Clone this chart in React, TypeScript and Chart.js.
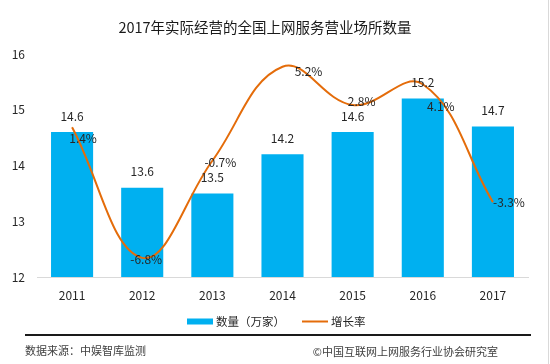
import React, { useEffect, useRef } from "react";
import { Chart, registerables } from "chart.js";

Chart.register(...registerables);

const title = "2017年实际经营的全国上网服务营业场所数量";
const years = ["2011", "2012", "2013", "2014", "2015", "2016", "2017"];
const counts = [14.6, 13.6, 13.5, 14.2, 14.6, 15.2, 14.7];
const growth = [1.4, -6.8, -0.7, 5.2, 2.8, 4.1, -3.3];
const countLabel = "数量（万家）";
const growthLabel = "增长率";
const sourceText = "数据来源：中娱智库监测";
const copyrightText = "©中国互联网上网服务行业协会研究室";
const yMin = 12;
const yMax = 16;

const FONT = '"Noto Sans CJK SC", "Noto Sans", sans-serif';
const BAR_COLOR = "#00B0F0";
const LINE_COLOR = "#E46C0A";
const TEXT_COLOR = "#262626";

// label offsets (relative to each line point) – styling only
const lineLabelOffsets = [
  [11, 11],
  [4, 2],
  [8, 2],
  [26, 5],
  [9, -4],
  [18, 22],
  [16, 0],
];

const decorPlugin = {
  id: "decor",
  afterDraw(chart: any) {
    const ctx = chart.ctx;
    ctx.save();
    // title
    ctx.fillStyle = "#1a1a1a";
    ctx.font = `14.5px ${FONT}`;
    ctx.textAlign = "center";
    ctx.textBaseline = "middle";
    ctx.fillText(title, 265, 27);

    // bar labels
    ctx.font = `12px ${FONT}`;
    ctx.fillStyle = TEXT_COLOR;
    const barMeta = chart.getDatasetMeta(0);
    barMeta.data.forEach((el: any, i: number) => {
      ctx.fillText(counts[i].toFixed(1), el.x, el.y - 16);
    });

    // line labels
    const lineMeta = chart.getDatasetMeta(1);
    lineMeta.data.forEach((el: any, i: number) => {
      const [dx, dy] = lineLabelOffsets[i];
      ctx.fillText(growth[i].toFixed(1) + "%", el.x + dx, el.y + dy);
    });

    // legend
    const ly = 321.5;
    ctx.fillStyle = BAR_COLOR;
    ctx.fillRect(187, ly - 3, 26, 6);
    ctx.fillStyle = TEXT_COLOR;
    ctx.font = `11.5px ${FONT}`;
    ctx.textAlign = "left";
    ctx.fillText(countLabel, 216, ly);
    ctx.strokeStyle = LINE_COLOR;
    ctx.lineWidth = 2;
    ctx.beginPath();
    ctx.moveTo(302, ly);
    ctx.lineTo(328, ly);
    ctx.stroke();
    ctx.fillText(growthLabel, 331, ly);

    // separator line
    ctx.fillStyle = "#1a1a1a";
    ctx.fillRect(25, 334, 506, 2);

    // footer
    ctx.fillStyle = "#404040";
    ctx.font = `11px ${FONT}`;
    ctx.textAlign = "left";
    ctx.fillText(sourceText, 25, 351);
    ctx.textAlign = "right";
    ctx.fillText(copyrightText, 498, 352);

    // right border
    ctx.fillStyle = "#d9d9d9";
    ctx.fillRect(548, 0, 1, 364);
    ctx.restore();
  },
};

export default function App() {
  const ref = useRef<HTMLCanvasElement | null>(null);
  useEffect(() => {
    if (!ref.current) return;
    const chart = new Chart(ref.current, {
      type: "bar",
      data: {
        labels: years,
        datasets: [
          {
            type: "bar",
            label: countLabel,
            data: counts,
            backgroundColor: BAR_COLOR,
            borderWidth: 0,
            categoryPercentage: 1,
            barPercentage: 0.6,
            yAxisID: "y",
            order: 2,
          },
          {
            type: "line",
            label: growthLabel,
            data: growth,
            borderColor: LINE_COLOR,
            borderWidth: 2,
            tension: 0.4,
            pointRadius: 0,
            fill: false,
            yAxisID: "y1",
            order: 1,
          } as any,
        ],
      },
      options: {
        responsive: false,
        animation: false,
        devicePixelRatio: 1,
        layout: { padding: { top: 54, left: 0, right: 22, bottom: 0 } },
        plugins: {
          legend: { display: false },
          title: { display: false },
          tooltip: { enabled: false },
        },
        scales: {
          x: {
            grid: { display: false, drawTicks: false },
            border: { display: true, color: "#d9d9d9", width: 1 },
            ticks: {
              font: { family: FONT, size: 12 },
              color: TEXT_COLOR,
              padding: 11,
            },
            afterFit: (s: any) => {
              s.height = 87;
            },
          },
          y: {
            position: "left",
            min: yMin,
            max: yMax,
            grid: { display: false, drawTicks: false },
            border: { display: false },
            ticks: {
              stepSize: 1,
              font: { family: FONT, size: 12 },
              color: TEXT_COLOR,
              padding: 12,
            },
            afterFit: (s: any) => {
              s.width = 37;
            },
          },
          y1: {
            display: false,
            min: -8,
            max: 6,
          },
        },
      },
      plugins: [decorPlugin],
    });
    return () => chart.destroy();
  }, []);
  return (
    <div style={{ position: "absolute", left: 0, top: 0, width: 550, height: 364, background: "#fff" }}>
      <canvas ref={ref} width={550} height={364} style={{ display: "block" }} />
    </div>
  );
}
